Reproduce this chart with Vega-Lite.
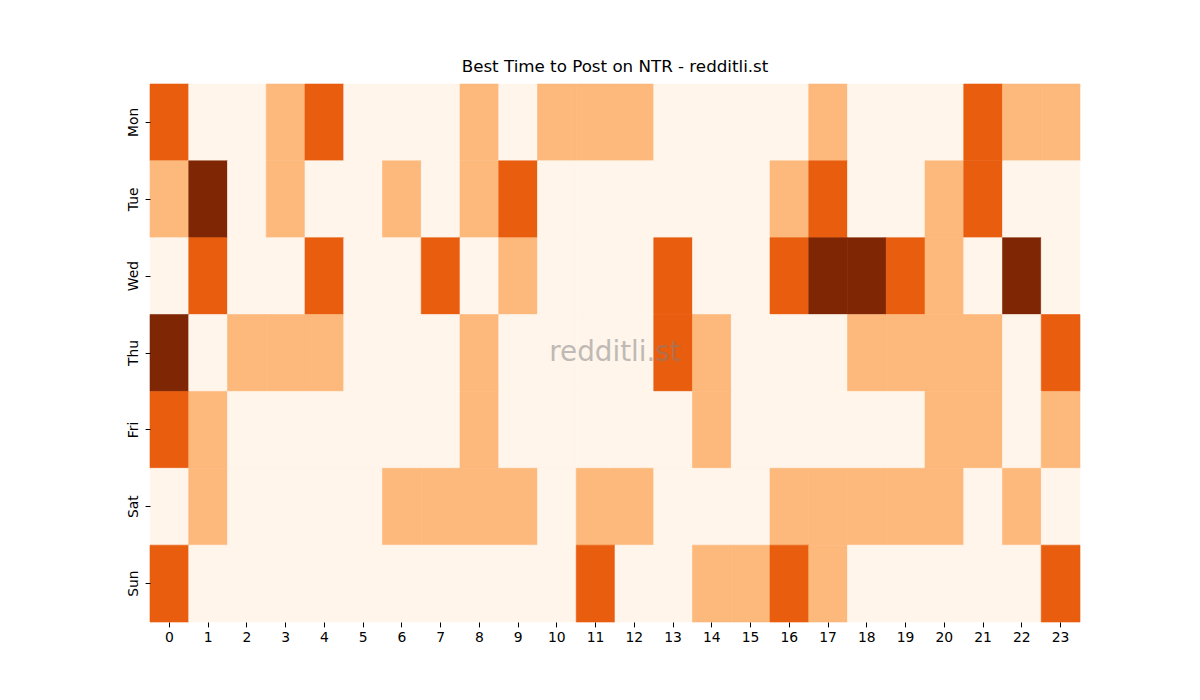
{
  "$schema": "https://vega.github.io/schema/vega-lite/v6.json",
  "autosize": "none",
  "width": 930,
  "height": 538,
  "padding": {"left": 150, "top": 84, "right": 120, "bottom": 78},
  "background": "white",
  "config": {"view": {"stroke": null}, "font": "DejaVu Sans"},
  "title": {"text": "Best Time to Post on NTR - redditli.st", "font": "DejaVu Sans", "fontSize": 16.7, "fontWeight": "normal", "color": "black", "offset": 8},
  "datasets": {
    "grid": [
      {"day":"Mon","hour":0,"v":2},{"day":"Mon","hour":1,"v":0},{"day":"Mon","hour":2,"v":0},{"day":"Mon","hour":3,"v":1},{"day":"Mon","hour":4,"v":2},{"day":"Mon","hour":5,"v":0},{"day":"Mon","hour":6,"v":0},{"day":"Mon","hour":7,"v":0},{"day":"Mon","hour":8,"v":1},{"day":"Mon","hour":9,"v":0},{"day":"Mon","hour":10,"v":1},{"day":"Mon","hour":11,"v":1},{"day":"Mon","hour":12,"v":1},{"day":"Mon","hour":13,"v":0},{"day":"Mon","hour":14,"v":0},{"day":"Mon","hour":15,"v":0},{"day":"Mon","hour":16,"v":0},{"day":"Mon","hour":17,"v":1},{"day":"Mon","hour":18,"v":0},{"day":"Mon","hour":19,"v":0},{"day":"Mon","hour":20,"v":0},{"day":"Mon","hour":21,"v":2},{"day":"Mon","hour":22,"v":1},{"day":"Mon","hour":23,"v":1},
      {"day":"Tue","hour":0,"v":1},{"day":"Tue","hour":1,"v":3},{"day":"Tue","hour":2,"v":0},{"day":"Tue","hour":3,"v":1},{"day":"Tue","hour":4,"v":0},{"day":"Tue","hour":5,"v":0},{"day":"Tue","hour":6,"v":1},{"day":"Tue","hour":7,"v":0},{"day":"Tue","hour":8,"v":1},{"day":"Tue","hour":9,"v":2},{"day":"Tue","hour":10,"v":0},{"day":"Tue","hour":11,"v":0},{"day":"Tue","hour":12,"v":0},{"day":"Tue","hour":13,"v":0},{"day":"Tue","hour":14,"v":0},{"day":"Tue","hour":15,"v":0},{"day":"Tue","hour":16,"v":1},{"day":"Tue","hour":17,"v":2},{"day":"Tue","hour":18,"v":0},{"day":"Tue","hour":19,"v":0},{"day":"Tue","hour":20,"v":1},{"day":"Tue","hour":21,"v":2},{"day":"Tue","hour":22,"v":0},{"day":"Tue","hour":23,"v":0},
      {"day":"Wed","hour":0,"v":0},{"day":"Wed","hour":1,"v":2},{"day":"Wed","hour":2,"v":0},{"day":"Wed","hour":3,"v":0},{"day":"Wed","hour":4,"v":2},{"day":"Wed","hour":5,"v":0},{"day":"Wed","hour":6,"v":0},{"day":"Wed","hour":7,"v":2},{"day":"Wed","hour":8,"v":0},{"day":"Wed","hour":9,"v":1},{"day":"Wed","hour":10,"v":0},{"day":"Wed","hour":11,"v":0},{"day":"Wed","hour":12,"v":0},{"day":"Wed","hour":13,"v":2},{"day":"Wed","hour":14,"v":0},{"day":"Wed","hour":15,"v":0},{"day":"Wed","hour":16,"v":2},{"day":"Wed","hour":17,"v":3},{"day":"Wed","hour":18,"v":3},{"day":"Wed","hour":19,"v":2},{"day":"Wed","hour":20,"v":1},{"day":"Wed","hour":21,"v":0},{"day":"Wed","hour":22,"v":3},{"day":"Wed","hour":23,"v":0},
      {"day":"Thu","hour":0,"v":3},{"day":"Thu","hour":1,"v":0},{"day":"Thu","hour":2,"v":1},{"day":"Thu","hour":3,"v":1},{"day":"Thu","hour":4,"v":1},{"day":"Thu","hour":5,"v":0},{"day":"Thu","hour":6,"v":0},{"day":"Thu","hour":7,"v":0},{"day":"Thu","hour":8,"v":1},{"day":"Thu","hour":9,"v":0},{"day":"Thu","hour":10,"v":0},{"day":"Thu","hour":11,"v":0},{"day":"Thu","hour":12,"v":0},{"day":"Thu","hour":13,"v":2},{"day":"Thu","hour":14,"v":1},{"day":"Thu","hour":15,"v":0},{"day":"Thu","hour":16,"v":0},{"day":"Thu","hour":17,"v":0},{"day":"Thu","hour":18,"v":1},{"day":"Thu","hour":19,"v":1},{"day":"Thu","hour":20,"v":1},{"day":"Thu","hour":21,"v":1},{"day":"Thu","hour":22,"v":0},{"day":"Thu","hour":23,"v":2},
      {"day":"Fri","hour":0,"v":2},{"day":"Fri","hour":1,"v":1},{"day":"Fri","hour":2,"v":0},{"day":"Fri","hour":3,"v":0},{"day":"Fri","hour":4,"v":0},{"day":"Fri","hour":5,"v":0},{"day":"Fri","hour":6,"v":0},{"day":"Fri","hour":7,"v":0},{"day":"Fri","hour":8,"v":1},{"day":"Fri","hour":9,"v":0},{"day":"Fri","hour":10,"v":0},{"day":"Fri","hour":11,"v":0},{"day":"Fri","hour":12,"v":0},{"day":"Fri","hour":13,"v":0},{"day":"Fri","hour":14,"v":1},{"day":"Fri","hour":15,"v":0},{"day":"Fri","hour":16,"v":0},{"day":"Fri","hour":17,"v":0},{"day":"Fri","hour":18,"v":0},{"day":"Fri","hour":19,"v":0},{"day":"Fri","hour":20,"v":1},{"day":"Fri","hour":21,"v":1},{"day":"Fri","hour":22,"v":0},{"day":"Fri","hour":23,"v":1},
      {"day":"Sat","hour":0,"v":0},{"day":"Sat","hour":1,"v":1},{"day":"Sat","hour":2,"v":0},{"day":"Sat","hour":3,"v":0},{"day":"Sat","hour":4,"v":0},{"day":"Sat","hour":5,"v":0},{"day":"Sat","hour":6,"v":1},{"day":"Sat","hour":7,"v":1},{"day":"Sat","hour":8,"v":1},{"day":"Sat","hour":9,"v":1},{"day":"Sat","hour":10,"v":0},{"day":"Sat","hour":11,"v":1},{"day":"Sat","hour":12,"v":1},{"day":"Sat","hour":13,"v":0},{"day":"Sat","hour":14,"v":0},{"day":"Sat","hour":15,"v":0},{"day":"Sat","hour":16,"v":1},{"day":"Sat","hour":17,"v":1},{"day":"Sat","hour":18,"v":1},{"day":"Sat","hour":19,"v":1},{"day":"Sat","hour":20,"v":1},{"day":"Sat","hour":21,"v":0},{"day":"Sat","hour":22,"v":1},{"day":"Sat","hour":23,"v":0},
      {"day":"Sun","hour":0,"v":2},{"day":"Sun","hour":1,"v":0},{"day":"Sun","hour":2,"v":0},{"day":"Sun","hour":3,"v":0},{"day":"Sun","hour":4,"v":0},{"day":"Sun","hour":5,"v":0},{"day":"Sun","hour":6,"v":0},{"day":"Sun","hour":7,"v":0},{"day":"Sun","hour":8,"v":0},{"day":"Sun","hour":9,"v":0},{"day":"Sun","hour":10,"v":0},{"day":"Sun","hour":11,"v":2},{"day":"Sun","hour":12,"v":0},{"day":"Sun","hour":13,"v":0},{"day":"Sun","hour":14,"v":1},{"day":"Sun","hour":15,"v":1},{"day":"Sun","hour":16,"v":2},{"day":"Sun","hour":17,"v":1},{"day":"Sun","hour":18,"v":0},{"day":"Sun","hour":19,"v":0},{"day":"Sun","hour":20,"v":0},{"day":"Sun","hour":21,"v":0},{"day":"Sun","hour":22,"v":0},{"day":"Sun","hour":23,"v":2}
    ],
    "mark": [{"label": "redditli.st", "hour": 11, "day": "Thu"}]
  },
  "encoding": {
    "x": {"field": "hour", "type": "ordinal", "sort": null,
      "scale": {"domain": [0,1,2,3,4,5,6,7,8,9,10,11,12,13,14,15,16,17,18,19,20,21,22,23], "paddingInner": 0, "paddingOuter": 0},
      "axis": {"title": null, "labelAngle": 0, "domain": false, "tickColor": "black", "tickSize": 4.9, "labelPadding": 4, "labelFont": "DejaVu Sans", "labelFontSize": 13.9, "labelColor": "black"}},
    "y": {"field": "day", "type": "ordinal",
      "scale": {"domain": ["Mon","Tue","Wed","Thu","Fri","Sat","Sun"], "paddingInner": 0, "paddingOuter": 0},
      "axis": {"title": null, "labelAngle": -90, "labelAlign": "center", "labelBaseline": "bottom", "domain": false, "tickColor": "black", "tickSize": 4.9, "labelPadding": 5, "labelFont": "DejaVu Sans", "labelFontSize": 13.9, "labelColor": "black"}}
  },
  "layer": [
    {
      "data": {"name": "grid"},
      "mark": {"type": "rect", "strokeWidth": 0.6},
      "encoding": {
        "color": {"field": "v", "type": "ordinal", "legend": null,
          "scale": {"domain": [0,1,2,3], "range": ["#fff5eb", "#fdb87c", "#e85d0e", "#7f2704"]}},
        "stroke": {"field": "v", "type": "ordinal", "legend": null,
          "scale": {"domain": [0,1,2,3], "range": ["#fff5eb", "#fdb87c", "#e85d0e", "#7f2704"]}}
      }
    },
    {
      "data": {"name": "mark"},
      "mark": {"type": "text", "font": "DejaVu Sans", "fontSize": 27.8, "color": "gray", "opacity": 0.5, "align": "center", "baseline": "middle"},
      "encoding": {
        "x": {"field": "hour", "type": "ordinal", "bandPosition": 1},
        "text": {"field": "label"}
      }
    }
  ]
}
